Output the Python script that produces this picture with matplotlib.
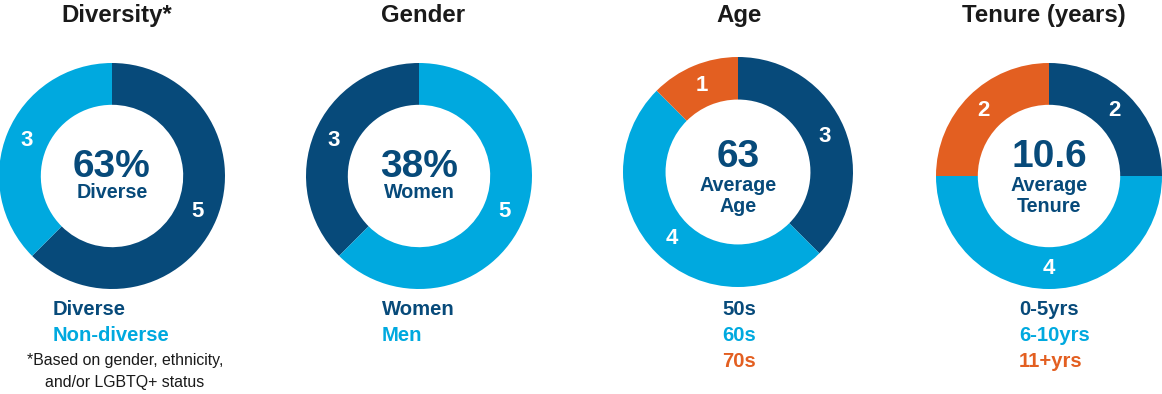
import numpy as np
import matplotlib
matplotlib.use("Agg")
import matplotlib.pyplot as plt

# chart data
titles = ["Diversity*", "Gender", "Age", "Tenure (years)"]
diversity_labels = ["Diverse", "Non-diverse"]
diversity_counts = [5, 3]
gender_labels = ["Women", "Men"]
gender_counts = [3, 5]
age_labels = ["50s", "60s", "70s"]
age_counts = [3, 4, 1]
tenure_labels = ["0-5yrs", "6-10yrs", "11+yrs"]
tenure_counts = [2, 4, 2]
center_values = ["63%", "38%", "63", "10.6"]
center_captions = [["Diverse"], ["Women"], ["Average", "Age"], ["Average", "Tenure"]]
footnote = ["*Based on gender, ethnicity,", "and/or LGBTQ+ status"]

NAVY = "#074a7a"
SKY = "#00a9df"
ORANGE = "#e35f21"
TITLE = "#1a1a1a"
colors = [NAVY, SKY, ORANGE]

W, H = 1162, 394
plt.rcParams["font.family"] = ["Liberation Sans", "DejaVu Sans"]

fig = plt.figure(figsize=(W / 100, H / 100), dpi=100)
ax = fig.add_axes([0, 0, 1, 1])


def y(py):
    # pixel row -> data y
    return H - py


charts = [
    # counts, labels, cx, cy, r, counterclock, legend x, legend align, title x
    (diversity_counts, diversity_labels, 112, 176, 113, False, 53, "left", 117),
    (gender_counts, gender_labels, 419, 176, 113, True, 382, "left", 423),
    (age_counts, age_labels, 738, 172, 115, False, 739, "center", 739),
    (tenure_counts, tenure_labels, 1049, 176, 113, False, 1019, "left", 1044),
]

for i, (counts, labels, cx, cy, r, ccw, lx, lalign, tx) in enumerate(charts):
    ring = r * 0.37
    wedges, _ = ax.pie(counts, colors=colors[:len(counts)], startangle=90,
                       counterclock=ccw, radius=r, center=(cx, y(cy)),
                       wedgeprops=dict(width=ring, linewidth=0))
    mid_r = r - ring / 2
    for w, n in zip(wedges, counts):
        a = np.deg2rad((w.theta1 + w.theta2) / 2)
        ax.text(cx + mid_r * np.cos(a), y(cy) + mid_r * np.sin(a), str(n),
                color="white", fontsize=16, fontweight="bold",
                ha="center", va="center")

    ax.text(tx, y(22), titles[i], color=TITLE, fontsize=17.3, fontweight="bold",
            ha="center", va="baseline")

    # centre text
    if len(center_captions[i]) == 1:
        ax.text(cx, y(177), center_values[i], color=NAVY, fontsize=28,
                fontweight="bold", ha="center", va="baseline")
        ax.text(cx, y(198), center_captions[i][0], color=NAVY, fontsize=14.2,
                fontweight="bold", ha="center", va="baseline")
    else:
        ax.text(cx, y(167), center_values[i], color=NAVY, fontsize=28,
                fontweight="bold", ha="center", va="baseline")
        ax.text(cx, y(191), center_captions[i][0], color=NAVY, fontsize=14.2,
                fontweight="bold", ha="center", va="baseline")
        ax.text(cx, y(212), center_captions[i][1], color=NAVY, fontsize=14.2,
                fontweight="bold", ha="center", va="baseline")

    # legend lines
    for j, lab in enumerate(labels):
        ax.text(lx, y(315 + 26 * j), lab, color=colors[j], fontsize=14.6,
                fontweight="bold", ha=lalign, va="baseline")

for k, line in enumerate(footnote):
    ax.text(125, y(365 + 22 * k), line, color=TITLE, fontsize=11.4,
            ha="center", va="baseline")

ax.set_xlim(0, W)
ax.set_ylim(0, H)
ax.set_aspect("auto")
ax.axis("off")

fig.savefig("out.png", dpi=100, facecolor="white")
